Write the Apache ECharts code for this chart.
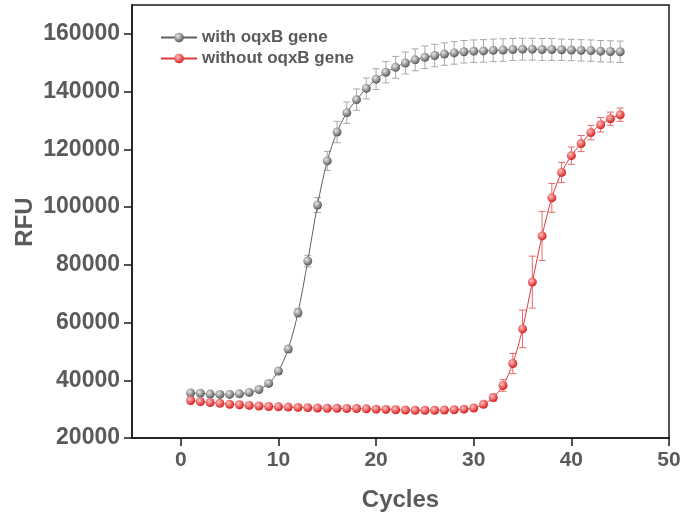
<!DOCTYPE html>
<html lang="en">
<head>
    <meta charset="UTF-8">
    <title>RFU curves</title>
    <style>
        html,
        body {
            margin: 0;
            padding: 0;
            width: 100%;
            height: 100%;
            background: #fff;
        }

        #canvas {
            width: 684px;
            height: 522px;
        }
    </style>
</head>
<body>
<div id="canvas"></div>
<script src="https://cdn.jsdelivr.net/npm/echarts@6.0.0/dist/echarts.min.js"></script>
<script>
    const cycles = [1, 2, 3, 4, 5, 6, 7, 8, 9, 10, 11, 12, 13, 14, 15, 16, 17, 18, 19, 20, 21, 22, 23,
        24, 25, 26, 27, 28, 29, 30, 31, 32, 33, 34, 35, 36, 37, 38, 39, 40, 41, 42, 43, 44, 45]

    const withGene = [35600, 35500, 35200, 35100, 35100, 35300, 35800, 36800, 38900, 43200,
        50800, 63400, 81300, 100700, 116000, 126000, 132700, 137200, 141100, 144300,
        146700, 148400, 149900, 151000, 151900, 152500, 153000, 153400, 153800, 154000,
        154100, 154300, 154400, 154600, 154700, 154700, 154600, 154600, 154500, 154400,
        154300, 154200, 154000, 153900, 153800]
    const withGeneErr = [700, 600, 600, 600, 600, 600, 600, 700, 800, 900,
        1100, 1500, 2000, 2600, 3300, 3700, 3700, 3700, 3600, 3600,
        3700, 3800, 3800, 3800, 3900, 3900, 3900, 3900, 3900, 3900,
        3900, 3900, 3900, 3800, 3800, 3800, 3800, 3800, 3700, 3700,
        3700, 3700, 3700, 3700, 3700]

    const withoutGene = [33000, 32600, 32300, 32000, 31700, 31500, 31300, 31100, 30900, 30800,
        30700, 30600, 30500, 30400, 30300, 30300, 30200, 30200, 30100, 30000,
        29900, 29800, 29700, 29600, 29600, 29600, 29700, 29800, 30000, 30400,
        31700, 34000, 38200, 45800, 57800, 74000, 90000, 103200, 112000, 117800,
        122000, 125800, 128500, 130600, 132000]
    const withoutGeneErr = [900, 900, 900, 900, 900, 900, 900, 900, 900, 900,
        900, 900, 900, 900, 900, 900, 900, 900, 900, 900,
        900, 900, 900, 900, 900, 900, 900, 900, 900, 900,
        900, 1200, 2000, 3500, 6500, 9000, 8500, 5000, 3500, 3000,
        2800, 2500, 2500, 2300, 2300]

    const xTicks = [0, 10, 20, 30, 40, 50]
    const yTicks = [20000, 40000, 60000, 80000, 100000, 120000, 140000, 160000]

    const names = ['with oqxB gene', 'without oqxB gene']

    const font = "'Liberation Sans', Arial, sans-serif"
    const labelColor = '#5a5a5a'
    const axisColor = '#1a1a1a'

    function ball(light, dark) {
        return {
            type: 'radial', x: 0.38, y: 0.35, r: 0.65,
            colorStops: [{offset: 0, color: light}, {offset: 1, color: dark}]
        }
    }

    function points(values) {
        return cycles.map((c, i) => [c, values[i]])
    }

    function errorData(values, errs) {
        return cycles.map((c, i) => [c, values[i] - errs[i], values[i] + errs[i]])
    }

    function errorSeries(values, errs, color) {
        return {
            type: 'custom',
            data: errorData(values, errs),
            z: 1,
            silent: true,
            renderItem: (params, api) => {
                const lo = api.coord([api.value(0), api.value(1)])
                const hi = api.coord([api.value(0), api.value(2)])
                const w = 3.5
                const style = {stroke: color, lineWidth: 1}
                return {
                    type: 'group',
                    children: [
                        {type: 'line', shape: {x1: lo[0], y1: lo[1], x2: hi[0], y2: hi[1]}, style},
                        {type: 'line', shape: {x1: lo[0] - w, y1: lo[1], x2: lo[0] + w, y2: lo[1]}, style},
                        {type: 'line', shape: {x1: hi[0] - w, y1: hi[1], x2: hi[0] + w, y2: hi[1]}, style}
                    ]
                }
            }
        }
    }

    const myChart = echarts.init(document.getElementById('canvas'))

    myChart.setOption({
        animation: false,
        grid: {
            left: 132,
            right: 15,
            top: 5,
            bottom: 84,
            show: true,
            borderColor: axisColor,
            borderWidth: 1.5
        },
        // y axis title placed by hand, the axis name kept getting pushed to the edge
        graphic: [{
            type: 'text',
            x: 25,
            y: 222,
            rotation: Math.PI / 2,
            style: {
                text: 'RFU',
                align: 'center',
                verticalAlign: 'middle',
                font: "bold 24px 'Liberation Sans', Arial, sans-serif",
                fill: labelColor
            }
        }],
        legend: {
            data: names,
            orient: 'vertical',
            left: 155,
            top: 24,
            itemWidth: 36,
            itemHeight: 12,
            itemGap: 4,
            textStyle: {
                fontFamily: font,
                fontWeight: 'bold',
                fontSize: 17,
                color: labelColor
            }
        },
        xAxis: {
            type: 'value',
            min: -5,
            max: 50,
            name: 'Cycles',
            nameLocation: 'middle',
            nameGap: 50,
            nameTextStyle: {fontFamily: font, fontWeight: 'bold', fontSize: 24, color: labelColor},
            axisLine: {onZero: false, lineStyle: {color: axisColor, width: 1.5}},
            axisTick: {customValues: xTicks, length: 8, lineStyle: {color: axisColor, width: 1.5}},
            axisLabel: {
                customValues: xTicks,
                margin: 12,
                fontFamily: font, fontWeight: 'bold', fontSize: 21, color: labelColor
            },
            splitLine: {show: false}
        },
        yAxis: {
            type: 'value',
            min: 20000,
            max: 170000,
            axisLine: {show: true, onZero: false, lineStyle: {color: axisColor, width: 1.5}},
            axisTick: {show: true, customValues: yTicks, length: 8, lineStyle: {color: axisColor, width: 1.5}},
            axisLabel: {
                customValues: yTicks,
                margin: 12,
                formatter: v => String(v),
                fontFamily: font, fontWeight: 'bold', fontSize: 23, color: labelColor
            },
            splitLine: {show: false}
        },
        series: [
            errorSeries(withGene, withGeneErr, '#a8a8a8'),
            errorSeries(withoutGene, withoutGeneErr, '#e46a6a'),
            {
                name: names[0],
                type: 'line',
                data: points(withGene),
                z: 3,
                smooth: 0.3,
                symbol: 'circle',
                symbolSize: 9,
                lineStyle: {color: '#606060', width: 1},
                itemStyle: {color: ball('#e8e8e8', '#5a5a5a'), borderWidth: 0}
            },
            {
                name: names[1],
                type: 'line',
                data: points(withoutGene),
                z: 4,
                smooth: 0.3,
                symbol: 'circle',
                symbolSize: 9,
                lineStyle: {color: '#e03a3a', width: 1},
                itemStyle: {color: ball('#ffc0c0', '#d81f1f'), borderWidth: 0}
            }
        ]
    })
</script>
</body>
</html>
